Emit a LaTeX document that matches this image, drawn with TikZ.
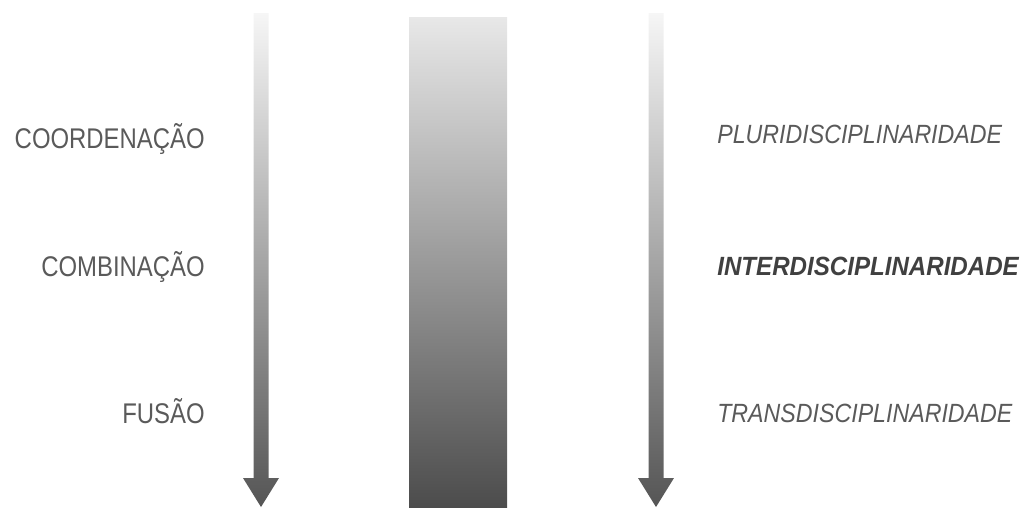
\documentclass[tikz,border=0pt]{standalone}
\usepackage{fontspec}
\setmainfont{Liberation Sans}
\definecolor{labelgray}{HTML}{5A5A5A}
\definecolor{boldgray}{HTML}{404040}
\definecolor{shafttop}{HTML}{F6F6F6}
\definecolor{shaftbottom}{HTML}{555555}
\definecolor{bartop}{HTML}{E8E8E8}
\definecolor{barbottom}{HTML}{4C4C4C}
\tikzset{
  level/.style={font=\fontsize{16.2}{16}\selectfont, text=labelgray,
    anchor=base east, inner sep=0pt, xscale=0.84},
  mode/.style={font=\fontsize{15}{15}\selectfont\itshape, text=labelgray,
    anchor=base west, inner sep=0pt, xscale=0.88},
  keymode/.style={mode, font=\fontsize{15}{15}\selectfont\bfseries\itshape, text=boldgray,
    xscale=1.04},
  shaft/.style={shade, top color=shafttop, bottom color=shaftbottom},
  band/.style={shade, top color=bartop, bottom color=barbottom}
}
% arrow drawn as one shaded outline: name, x position
\newcommand{\gradarrow}[2]{
  \coordinate (#1top) at (#2,13);
  \coordinate (#1tip) at (#2,507);
  \path[shaft] ($(#1top)+(-7.5,0)$) -- ($(#1top)+(7.5,0)$) -- ($(#1tip)+(7.5,-29)$)
    -- ($(#1tip)+(18,-29)$) -- (#1tip) -- ($(#1tip)+(-18,-29)$)
    -- ($(#1tip)+(-7.5,-29)$) -- cycle;
}
\usetikzlibrary{calc}

\begin{document}
\begin{tikzpicture}[x=0.02cm, y=-0.02cm]
\useasboundingbox (0,0) rectangle (1026,507);
\gradarrow{left}{261}
\gradarrow{right}{656}
\path[band] (409,17) rectangle (507,507);
\node[level] (coord) at (205,148) {COORDENAÇÃO};
\node[level] (comb) at (205,276) {COMBINAÇÃO};
\node[level] (fus) at (205,423) {FUSÃO};
\node[mode] (pluri) at (717,143) {PLURIDISCIPLINARIDADE};
\node[keymode] (inter) at (717,275) {INTERDISCIPLINARIDADE};
\node[mode] (trans) at (717,422) {TRANSDISCIPLINARIDADE};
\end{tikzpicture}
\end{document}
